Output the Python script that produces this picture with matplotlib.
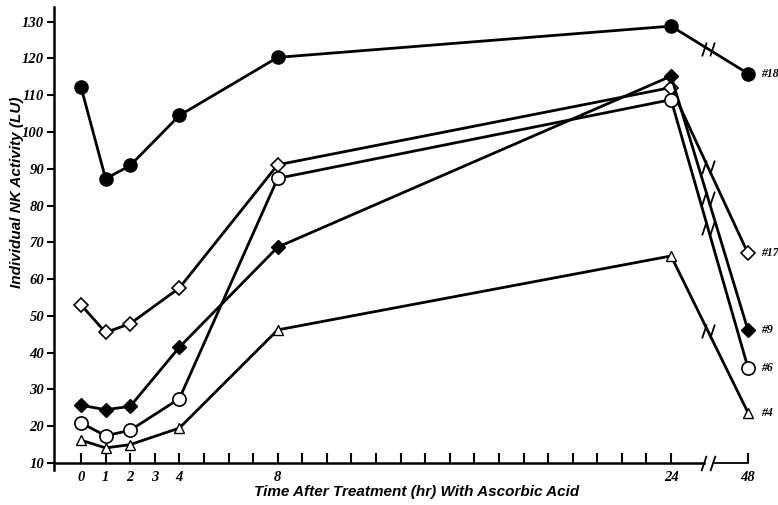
import numpy as np
import matplotlib
matplotlib.use("Agg")
import matplotlib.pyplot as plt
from matplotlib.path import Path

# hours after ascorbic acid, NK activity (LU) per patient
hours = [0, 1, 2, 4, 8, 24, 48]
patient_18 = [112.2, 87.3, 90.9, 104.5, 120.3, 128.8, 115.9]
patient_17 = [53.0, 45.5, 47.9, 57.6, 91.1, 112.1, 67.0]
patient_9 = [25.7, 24.5, 25.4, 41.5, 68.7, 115.2, 46.1]
patient_6 = [20.9, 17.4, 18.9, 27.5, 87.4, 108.8, 35.9]
patient_4 = [16.2, 14.1, 15.0, 19.5, 46.2, 66.3, 23.7]
series_names = ["#18", "#17", "#9", "#6", "#4"]

x_tick_hours = list(range(0, 25)) + [48]
x_tick_labels = ["0", "1", "2", "3", "4", "8", "24", "48"]
y_ticks = list(range(10, 140, 10))

BREAK_GAP = 3.13   # where 48 h sits past the 24 h mark on the axis
BREAK_AT = 25.5    # where the axis is cut


def axis_pos(h):
    """Map hours to axis position (axis is broken between 24 and 48)."""
    h = np.asarray(h, dtype=float)
    return np.where(h <= 24, h, 24 + BREAK_GAP)


def main():
    serif = ["Liberation Serif", "DejaVu Serif"]
    sans = ["Liberation Sans", "DejaVu Sans"]

    fig = plt.figure(figsize=(7.78, 5.05), dpi=100)
    ax = fig.add_axes([54 / 778, 42 / 505, 694 / 778, 456 / 505])

    x = axis_pos(hours)
    styles = [
        dict(marker="o", ms=9.5, mfc="black", mec="black"),
        dict(marker="D", ms=6.8, mfc="white", mec="black", mew=1.2),
        dict(marker="D", ms=6.8, mfc="black", mec="black"),
        dict(marker="o", ms=9.5, mfc="white", mec="black", mew=1.2),
        dict(marker="^", ms=7, mfc="white", mec="black", mew=1.0),
    ]
    all_series = [patient_18, patient_17, patient_9, patient_6, patient_4]

    # double slash used to mark the broken time axis
    slash = Path([(-0.55, -0.6), (-0.15, 0.6), (0.15, -0.6), (0.55, 0.6)],
                 [Path.MOVETO, Path.LINETO, Path.MOVETO, Path.LINETO])

    for name, vals, st in zip(series_names, all_series, styles):
        ax.plot(x, vals, color="black", lw=2.0, zorder=3, clip_on=False, **st)
        # break mark on the 24 -> 48 segment
        y_break = np.interp(BREAK_AT, x[-2:], vals[-2:])
        ax.plot([BREAK_AT], [y_break], marker=slash, ms=10, mew=1.3,
                color="black", ls="none", zorder=4)
        ax.annotate(name, xy=(x[-1], vals[-1]), xytext=(9.5, 0),
                    textcoords="offset points", va="center", ha="left",
                    fontsize=8.5, fontweight="bold", fontstyle="italic",
                    family=serif, annotation_clip=False)

    ax.set_xlim(-1.1, 24 + BREAK_GAP)
    ax.set_ylim(10, 134)

    # hand-drawn broken x axis
    ax.spines["bottom"].set_visible(False)
    ax.spines["top"].set_visible(False)
    ax.spines["right"].set_visible(False)
    ax.spines["left"].set_linewidth(1.8)
    ax.spines["left"].set_bounds(8, 134)
    trans = ax.get_xaxis_transform()
    ax.plot([-1.1, BREAK_AT - 0.15], [0, 0], color="black", lw=1.8,
            transform=trans, clip_on=False)
    ax.plot([BREAK_AT + 0.2, 24 + BREAK_GAP], [0, 0], color="black", lw=1.3,
            transform=trans, clip_on=False)
    ax.plot([BREAK_AT], [0], marker=slash, ms=11, mew=1.3, color="black",
            transform=trans, clip_on=False, ls="none")

    ax.set_xticks(axis_pos(x_tick_hours))
    shown = dict(zip([0, 1, 2, 3, 4, 8, 24, 48], x_tick_labels))
    ax.set_xticklabels([shown.get(h, "") for h in x_tick_hours])
    ax.tick_params(axis="x", direction="in", length=7, width=1.5, pad=6)
    ax.set_yticks(y_ticks)
    ax.set_yticklabels([str(v) for v in y_ticks])
    ax.tick_params(axis="y", direction="out", length=5, width=1.5, pad=2)
    for lab in ax.get_xticklabels() + ax.get_yticklabels():
        lab.set_family(serif)
        lab.set_fontweight("bold")
        lab.set_fontstyle("italic")
        lab.set_fontsize(10.5)

    fig.text(417 / 778, 1 - 492 / 505, "Time After Treatment (hr) With Ascorbic Acid",
             ha="center", va="center", fontsize=11, fontweight="bold",
             fontstyle="italic", family=sans)
    fig.text(17 / 778, 1 - 192 / 505, "Individual NK Activity (LU)",
             ha="center", va="center", rotation=90, fontsize=11,
             fontweight="bold", fontstyle="italic", family=sans)

    fig.savefig("out.png", dpi=100)


if __name__ == "__main__":
    main()
